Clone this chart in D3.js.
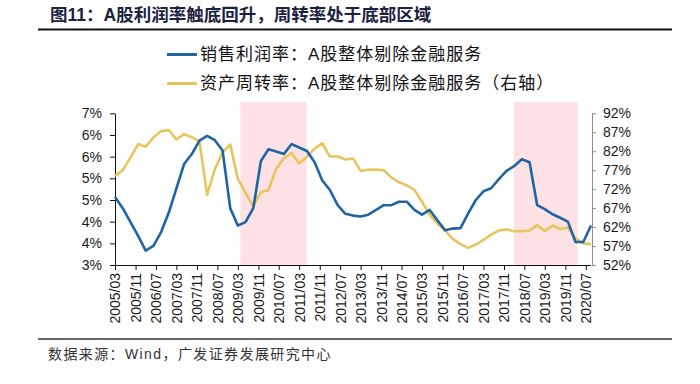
<!DOCTYPE html>
<html>
<head>
<meta charset="utf-8">
<script src="https://cdn.jsdelivr.net/npm/d3@7"></script>
<style>
  body { margin: 0; background: #fff; }
  svg { display: block; font-family: "Liberation Sans", "Noto Sans CJK SC", sans-serif; }
  .axis-label { font-size: 14px; fill: #1a1a1a; }
</style>
</head>
<body>
<div id="chart"></div>
<script>
// quarterly observations 2005/03 .. 2020/09
const firstQuarter = new Date(2005, 2, 1);
const lastQuarter = new Date(2020, 8, 1);

// 销售利润率 (%), left axis
const marginValues = [
  4.57, 4.31, 3.99, 3.67, 3.33, 3.44, 3.76, 4.21, 4.76, 5.33,
  5.56, 5.87, 5.98, 5.88, 5.64, 4.31, 3.91, 3.99, 4.31, 5.40,
  5.67, 5.62, 5.56, 5.79, 5.71, 5.63, 5.37, 4.95, 4.73, 4.38,
  4.18, 4.14, 4.12, 4.16, 4.27, 4.38, 4.38, 4.46, 4.46, 4.27,
  4.16, 4.27, 4.03, 3.80, 3.84, 3.85, 4.19, 4.50, 4.70, 4.77,
  4.98, 5.17, 5.28, 5.44, 5.37, 4.38, 4.29, 4.17, 4.09, 4.00,
  3.53, 3.53, 3.91
];

// 资产周转率 (%), right axis
const turnoverValues = [
  75.5, 77.0, 80.3, 83.9, 83.2, 85.6, 87.3, 87.6, 85.1, 86.5,
  85.7, 84.6, 70.5, 77.3, 81.7, 83.8, 74.7, 71.0, 67.5, 71.2,
  71.8, 77.3, 80.2, 81.5, 78.8, 80.5, 82.7, 84.1, 80.6, 80.6,
  79.8, 80.1, 76.8, 77.1, 77.2, 77.0, 75.1, 73.8, 73.0, 71.8,
  68.7, 65.2, 62.9, 61.1, 58.9, 57.5, 56.5, 57.4, 58.6, 60.0,
  61.1, 61.4, 60.9, 60.9, 61.1, 62.5, 61.0, 62.4, 61.5, 61.9,
  59.0, 57.7, 57.5
];

// shaded periods
const shadeStarts = ["2009-04-01", "2018-02-25"];
const shadeEnds = ["2011-05-28", "2020-03-25"];

const leftTicks = [3, 3.5, 4, 4.5, 5, 5.5, 6, 6.5];
const leftTickLabels = ["3%", "4%", "4%", "5%", "5%", "6%", "6%", "7%"];
const rightTicks = [52, 57, 62, 67, 72, 77, 82, 87, 92];
const rightTickLabels = ["52%", "57%", "62%", "67%", "72%", "77%", "82%", "87%", "92%"];

const titleText = "图11：A股利润率触底回升，周转率处于底部区域";
const legendLabels = ["销售利润率：A股整体剔除金融服务", "资产周转率：A股整体剔除金融服务（右轴）"];
const sourceText = "数据来源：Wind，广发证券发展研究中心";

const blue = "#1f65a4";
const yellow = "#e8c55c";
const pink = "#fde1e4";

const width = 700, height = 384;
const plot = { left: 115, right: 591, top: 113.3, bottom: 265 };

const svg = d3.select("#chart").append("svg")
  .attr("width", width)
  .attr("height", height);

// one date per quarter, counted from the first one
const dates = d3.timeMonth.range(firstQuarter, d3.timeMonth.offset(lastQuarter, 1), 3);

const x = d3.scaleTime()
  .domain([firstQuarter, lastQuarter])
  .range([plot.left, plot.right]);

const yLeft = d3.scaleLinear()
  .domain([3, 6.5])
  .range([plot.bottom, plot.top]);

const yRight = d3.scaleLinear()
  .domain([52, 92])
  .range([plot.bottom, plot.top]);

// title + rules
svg.append("text")
  .attr("x", 50)
  .attr("y", 21)
  .attr("font-size", "17.5px")
  .attr("font-weight", "bold")
  .attr("fill", "#1c2340")
  .text(titleText);

svg.append("line")
  .attr("x1", 38).attr("x2", 672)
  .attr("y1", 29.5).attr("y2", 29.5)
  .attr("stroke", "#111")
  .attr("stroke-width", 2);

svg.append("line")
  .attr("x1", 38).attr("x2", 672)
  .attr("y1", 339).attr("y2", 339)
  .attr("stroke", "#333")
  .attr("stroke-width", 1.5);

svg.append("text")
  .attr("x", 48)
  .attr("y", 354)
  .attr("dy", "0.35em")
  .attr("font-size", "14px")
  .attr("letter-spacing", "1.4px")
  .attr("fill", "#333")
  .text(sourceText);

// legend
const legend = svg.append("g");
[blue, yellow].forEach((c, i) => {
  const ly = 54.5 + i * 29;
  legend.append("line")
    .attr("x1", 167).attr("x2", 197)
    .attr("y1", ly).attr("y2", ly)
    .attr("stroke", c)
    .attr("stroke-width", 3);
  legend.append("text")
    .attr("x", 200)
    .attr("y", ly)
    .attr("dy", "0.35em")
    .attr("font-size", "17px")
    .attr("letter-spacing", "1px")
    .attr("fill", "#111")
    .text(legendLabels[i]);
});

// shaded periods
svg.selectAll(".shade")
  .data(shadeStarts)
  .enter()
  .append("rect")
  .attr("class", "shade")
  .attr("x", (d) => x(new Date(d)))
  .attr("width", (d, i) => x(new Date(shadeEnds[i])) - x(new Date(d)))
  .attr("y", 102)
  .attr("height", plot.bottom - 102)
  .attr("fill", pink);

// axes: a label every 8 months from 2005/03
const xTicks = d3.timeMonth.range(firstQuarter, new Date(2020, 7, 1), 8);

const gx = svg.append("g")
  .attr("transform", `translate(0,${plot.bottom})`)
  .call(d3.axisBottom(x).tickValues(xTicks).tickSizeInner(5).tickSizeOuter(0).tickFormat(d3.timeFormat("%Y/%m")));
gx.select(".domain").attr("stroke", "#111").attr("d", `M${plot.left},0.5H${plot.right}`);
gx.selectAll(".tick line").attr("stroke", "#111");
gx.selectAll("text")
  .attr("class", "axis-label")
  .attr("transform", "rotate(-90)")
  .attr("x", -8)
  .attr("y", 0)
  .attr("dy", "0.35em")
  .style("text-anchor", "end");

const gy = svg.append("g")
  .attr("transform", `translate(${plot.left},0)`)
  .call(d3.axisLeft(yLeft).tickValues(leftTicks).tickSizeInner(5).tickSizeOuter(0).tickPadding(8)
    .tickFormat((d, i) => leftTickLabels[i]));
gy.select(".domain").attr("stroke", "#111");
gy.selectAll(".tick line").attr("stroke", "#111");
gy.selectAll("text").attr("class", "axis-label");

const gy2 = svg.append("g")
  .attr("transform", `translate(${plot.right + 1},0)`)
  .call(d3.axisRight(yRight).tickValues(rightTicks).tickSizeInner(4).tickSizeOuter(0).tickPadding(7)
    .tickFormat((d, i) => rightTickLabels[i]));
gy2.select(".domain").attr("stroke", "#8c8c8c");
gy2.selectAll(".tick line").attr("stroke", "#8c8c8c");
gy2.selectAll("text").attr("class", "axis-label");

// lines
const turnoverLine = d3.line()
  .x((d, i) => x(dates[i]))
  .y((d) => yRight(d));

const marginLine = d3.line()
  .x((d, i) => x(dates[i]))
  .y((d) => yLeft(d));

svg.append("path")
  .datum(turnoverValues)
  .attr("fill", "none")
  .attr("stroke", yellow)
  .attr("stroke-width", 2.6)
  .attr("stroke-linejoin", "round")
  .attr("d", turnoverLine);

svg.append("path")
  .datum(marginValues)
  .attr("fill", "none")
  .attr("stroke", blue)
  .attr("stroke-width", 2.6)
  .attr("stroke-linejoin", "round")
  .attr("d", marginLine);
</script>
</body>
</html>
